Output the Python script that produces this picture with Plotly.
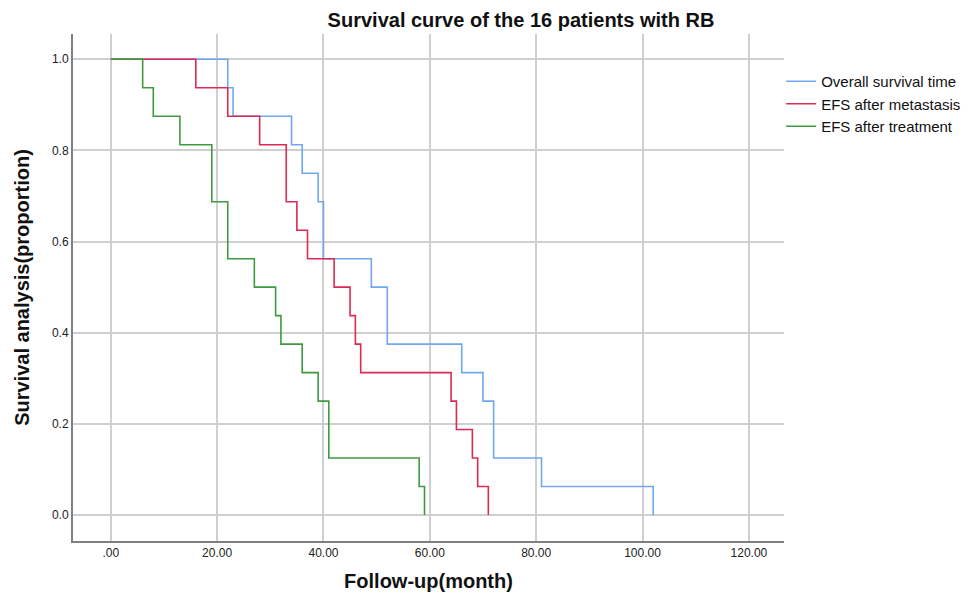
import plotly.graph_objects as go

# Event times (months) for 16 patients, no censoring
overall_times = [22, 23, 34, 36, 39, 40, 40, 49, 52, 52, 66, 70, 72, 72, 81, 102]
efs_meta_times = [16, 22, 28, 33, 33, 35, 37, 42, 45, 46, 47, 64, 65, 68, 69, 71]
efs_treat_times = [6, 8, 13, 19, 19, 22, 22, 27, 31, 32, 36, 39, 41, 41, 58, 59]

series_names = ["Overall survival time", "EFS after metastasis", "EFS after treatment"]
series_colors = ["#6fa8ee", "#dc2a55", "#3f9a3f"]

x_ticks = [0, 20, 40, 60, 80, 100, 120]
x_tick_text = [".00", "20.00", "40.00", "60.00", "80.00", "100.00", "120.00"]
y_ticks = [0, 0.2, 0.4, 0.6, 0.8, 1.0]
y_tick_text = ["0.0", "0.2", "0.4", "0.6", "0.8", "1.0"]


def km_steps(times):
    n = len(times)
    xs, ys = [0], [1.0]
    at_risk = n
    for t in sorted(set(times)):
        d = times.count(t)
        at_risk -= d
        xs.append(t)
        ys.append(at_risk / n)
    return xs, ys


fig = go.Figure()
for name, times, color in zip(series_names,
                              [overall_times, efs_meta_times, efs_treat_times],
                              series_colors):
    xs, ys = km_steps(times)
    fig.add_trace(go.Scatter(x=xs, y=ys, mode="lines", name=name,
                             line=dict(color=color, width=1.6, shape="hv")))

font_family = "Liberation Sans, Arial, sans-serif"

fig.update_layout(
    width=976, height=603,
    paper_bgcolor="white", plot_bgcolor="white",
    margin=dict(l=73, r=192, t=34, b=62, autoexpand=False),
    title=dict(text="Survival curve of the 16 patients with RB",
               x=521 / 976, xanchor="center", y=1 - 20 / 603, yanchor="middle",
               automargin=False,
               font=dict(family=font_family, size=20, color="#111", weight="bold")),
    showlegend=True,
    legend=dict(x=0.996, xanchor="left", y=0.939, yanchor="top",
                font=dict(family=font_family, size=15, color="#111"),
                bgcolor="rgba(0,0,0,0)", tracegroupgap=0),
    font=dict(family=font_family),
)

fig.update_xaxes(
    range=[-7.1, 126.6], tickvals=x_ticks, ticktext=x_tick_text,
    automargin=False,
    showgrid=True, gridcolor="#cfcfcf", gridwidth=2,
    showline=True, linecolor="#808080", linewidth=2, mirror=False,
    zeroline=False, ticks="",
    tickfont=dict(family=font_family, size=12, color="#222"),
    title=dict(text="Follow-up(month)", standoff=15,
               font=dict(family=font_family, size=20, color="#111", weight="bold")),
)
fig.update_yaxes(
    range=[-0.057, 1.0555], tickvals=y_ticks, ticktext=y_tick_text,
    automargin=False,
    showgrid=True, gridcolor="#cfcfcf", gridwidth=2,
    showline=True, linecolor="#808080", linewidth=2, mirror=False,
    zeroline=False, ticks="",
    tickfont=dict(family=font_family, size=12, color="#222"),
    title=dict(text="Survival analysis(proportion)", standoff=17,
               font=dict(family=font_family, size=20, color="#111", weight="bold")),
)

fig.write_html("out.html",
               config={"displayModeBar": False},
               post_script="document.body.style.margin='0';document.body.style.padding='0';")
